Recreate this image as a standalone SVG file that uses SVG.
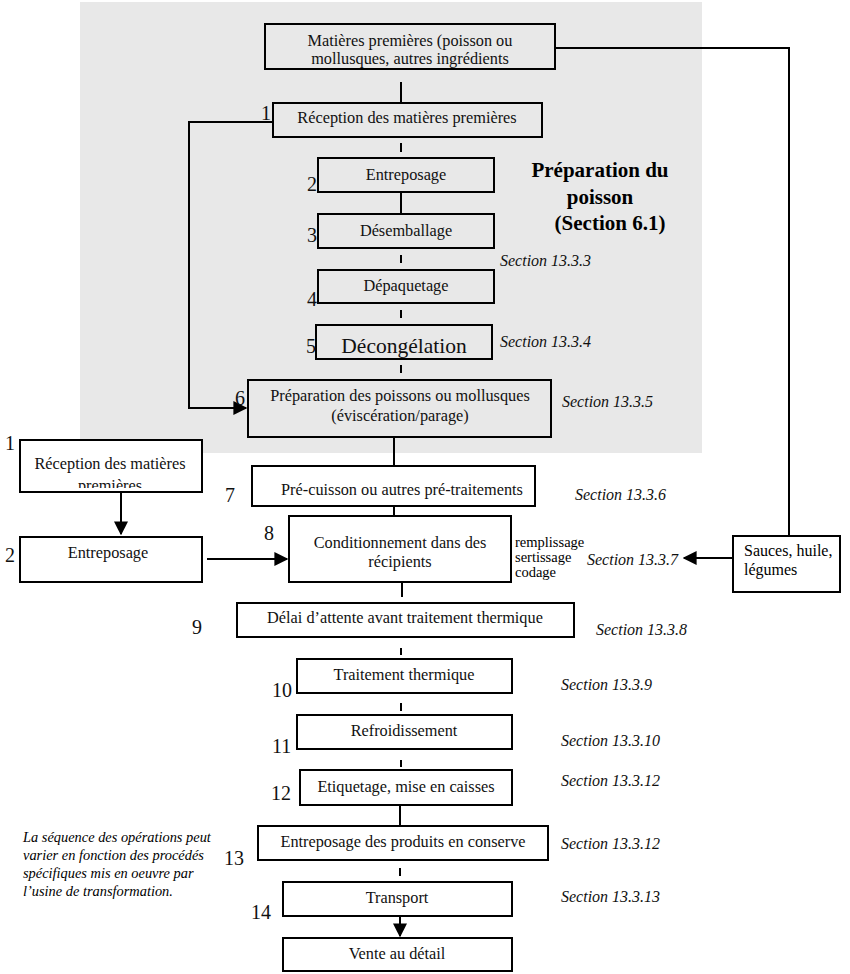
<svg xmlns="http://www.w3.org/2000/svg" width="850" height="974" viewBox="0 0 850 974" font-family="Liberation Serif, serif" style="font-family:'Liberation Serif',serif">
<defs>
<style>
text{font-family:'Liberation Serif',serif}
.b{fill:none;stroke:#000;stroke-width:2}
.w{fill:#fff;stroke:#000;stroke-width:2}
.t{font-size:16.3px;text-anchor:middle;fill:#111}
.n{font-size:20px;fill:#111}
.s{font-size:16px;font-style:italic;fill:#111}
.c{stroke:#000;stroke-width:2;fill:none}
</style>
<marker id="A" viewBox="0 0 10 10" refX="9" refY="5" markerWidth="14" markerHeight="14" markerUnits="userSpaceOnUse" orient="auto"><path d="M0,0L10,5L0,10z" fill="#000"/></marker>
<clipPath id="clipL1"><rect x="20" y="440" width="182" height="48"/></clipPath>
</defs>
<rect x="0" y="0" width="850" height="974" fill="#fff"/>
<rect x="80" y="2" width="622" height="451" fill="#e8e8e8"/>

<g id="connectors">
<line class="c" x1="401" y1="82" x2="401" y2="103"/>
<line class="c" x1="401" y1="143" x2="401" y2="152"/>
<line class="c" x1="401" y1="192" x2="401" y2="214"/>
<line class="c" x1="401" y1="255" x2="401" y2="263"/>
<line class="c" x1="401" y1="310" x2="401" y2="318"/>
<line class="c" x1="401" y1="365" x2="401" y2="373"/>
<path class="c" d="M273,122H189V408H246" marker-end="url(#A)"/>
<path class="c" d="M555,48H789V536"/>
<line class="c" x1="394" y1="437" x2="394" y2="466"/>
<line class="c" x1="394" y1="506" x2="394" y2="516"/>
<line class="c" x1="402" y1="582" x2="402" y2="597"/>
<line class="c" x1="401" y1="648" x2="401" y2="655"/>
<line class="c" x1="401" y1="703" x2="401" y2="711"/>
<line class="c" x1="401" y1="760" x2="401" y2="767"/>
<line class="c" x1="400" y1="806" x2="400" y2="826"/>
<line class="c" x1="400" y1="868" x2="400" y2="876"/>
<line class="c" x1="400" y1="916" x2="400" y2="936" marker-end="url(#A)"/>
<line class="c" x1="121" y1="493" x2="121" y2="534" marker-end="url(#A)"/>
<line class="c" x1="207" y1="559" x2="287" y2="559" marker-end="url(#A)"/>
<line class="c" x1="733" y1="558" x2="684" y2="558" marker-end="url(#A)"/>
</g>

<g id="n0"><rect class="b" x="265" y="24" width="290" height="45"/><text class="t" x="410" y="46">Matières premières (poisson ou</text><text class="t" x="410" y="64">mollusques, autres ingrédients</text></g>
<g id="n1"><rect class="b" x="273" y="103" width="269" height="34"/><text class="t" x="407" y="123">Réception des matières premières</text><text class="n" x="261" y="120">1</text></g>
<g id="n2"><rect class="b" x="318" y="158" width="176" height="34"/><text class="t" x="406" y="180">Entreposage</text><text class="n" x="307" y="191">2</text></g>
<g id="n3"><rect class="b" x="318" y="214" width="176" height="34"/><text class="t" x="406" y="236">Désemballage</text><text class="n" x="307" y="242">3</text></g>
<g id="n4"><rect class="b" x="318" y="270" width="176" height="33"/><text class="t" x="406" y="291">Dépaquetage</text><text class="n" x="307" y="306">4</text></g>
<g id="n5"><rect class="b" x="316" y="325" width="176" height="34"/><text class="t" x="404" y="353" style="font-size:21.5px">Décongélation</text><text class="n" x="306" y="353">5</text></g>
<g id="n6"><rect class="b" x="248" y="380" width="303" height="57"/><text class="t" x="400" y="401">Préparation des poissons ou mollusques</text><text class="t" x="400" y="421">(éviscération/parage)</text><text class="n" x="235" y="405">6</text></g>
<g id="title" style="font-size:21px;font-weight:bold;text-anchor:middle"><text x="600" y="177">Préparation du</text><text x="600" y="204">poisson</text><text x="610" y="230">(Section 6.1)</text></g>
<text class="s" x="500" y="266">Section 13.3.3</text>
<text class="s" x="500" y="347">Section 13.3.4</text>
<text class="s" x="562" y="407">Section 13.3.5</text>

<g id="l1"><rect class="w" x="20" y="440" width="182" height="52"/><text class="t" x="110" y="469">Réception des matières</text><text class="t" x="110" y="491" clip-path="url(#clipL1)">premières</text><text class="n" x="5" y="450">1</text></g>
<g id="l2"><rect class="w" x="20" y="537" width="182" height="45"/><text class="t" x="108" y="558">Entreposage</text><text class="n" x="5" y="562">2</text></g>

<g id="n7"><rect class="w" x="252" y="466" width="283" height="40"/><text class="t" x="402" y="495">Pré-cuisson ou autres pré-traitements</text><text class="n" x="225" y="502">7</text></g>
<text class="s" x="575" y="500">Section 13.3.6</text>
<g id="n8"><rect class="w" x="289" y="516" width="222" height="66"/><text class="t" x="400" y="548">Conditionnement dans des</text><text class="t" x="400" y="567">récipients</text><text class="n" x="264" y="540">8</text>
<g style="font-size:14.5px"><text x="515" y="547">remplissage</text><text x="515" y="562">sertissage</text><text x="515" y="577">codage</text></g></g>
<g id="sauces" style="font-size:16px"><rect class="w" x="733" y="536" width="107" height="56"/><text x="744" y="556">Sauces, huile,</text><text x="744" y="575">légumes</text></g>
<text class="s" x="587" y="565">Section 13.3.7</text>

<g id="n9"><rect class="w" x="237" y="603" width="337" height="34"/><text class="t" x="405" y="623">Délai d’attente avant traitement thermique</text><text class="n" x="192" y="634">9</text></g>
<text class="s" x="596" y="635">Section 13.3.8</text>
<g id="n10"><rect class="w" x="297" y="659" width="215" height="34"/><text class="t" x="404" y="680">Traitement thermique</text><text class="n" x="272" y="697">10</text></g>
<text class="s" x="561" y="690">Section 13.3.9</text>
<g id="n11"><rect class="w" x="297" y="715" width="215" height="34"/><text class="t" x="404" y="736">Refroidissement</text><text class="n" x="272" y="753">11</text></g>
<text class="s" x="561" y="746">Section 13.3.10</text>
<g id="n12"><rect class="w" x="300" y="770" width="212" height="35"/><text class="t" x="406" y="792">Etiquetage, mise en caisses</text><text class="n" x="271" y="800">12</text></g>
<text class="s" x="561" y="786">Section 13.3.12</text>
<g id="n13"><rect class="w" x="258" y="826" width="290" height="34"/><text class="t" x="403" y="847">Entreposage des produits en conserve</text><text class="n" x="224" y="865">13</text></g>
<text class="s" x="561" y="849">Section 13.3.12</text>
<g id="n14"><rect class="w" x="283" y="882" width="229" height="34"/><text class="t" x="397" y="903">Transport</text><text class="n" x="251" y="919">14</text></g>
<text class="s" x="561" y="902">Section 13.3.13</text>
<g id="n15"><rect class="w" x="283" y="938" width="229" height="33"/><text class="t" x="397" y="959">Vente au détail</text></g>

<g id="note" style="font-size:14.4px;font-style:italic">
<text x="23" y="842">La séquence des opérations peut</text>
<text x="23" y="860">varier en fonction des procédés</text>
<text x="23" y="878">spécifiques mis en oeuvre par</text>
<text x="23" y="896">l’usine de transformation.</text>
</g>
</svg>
